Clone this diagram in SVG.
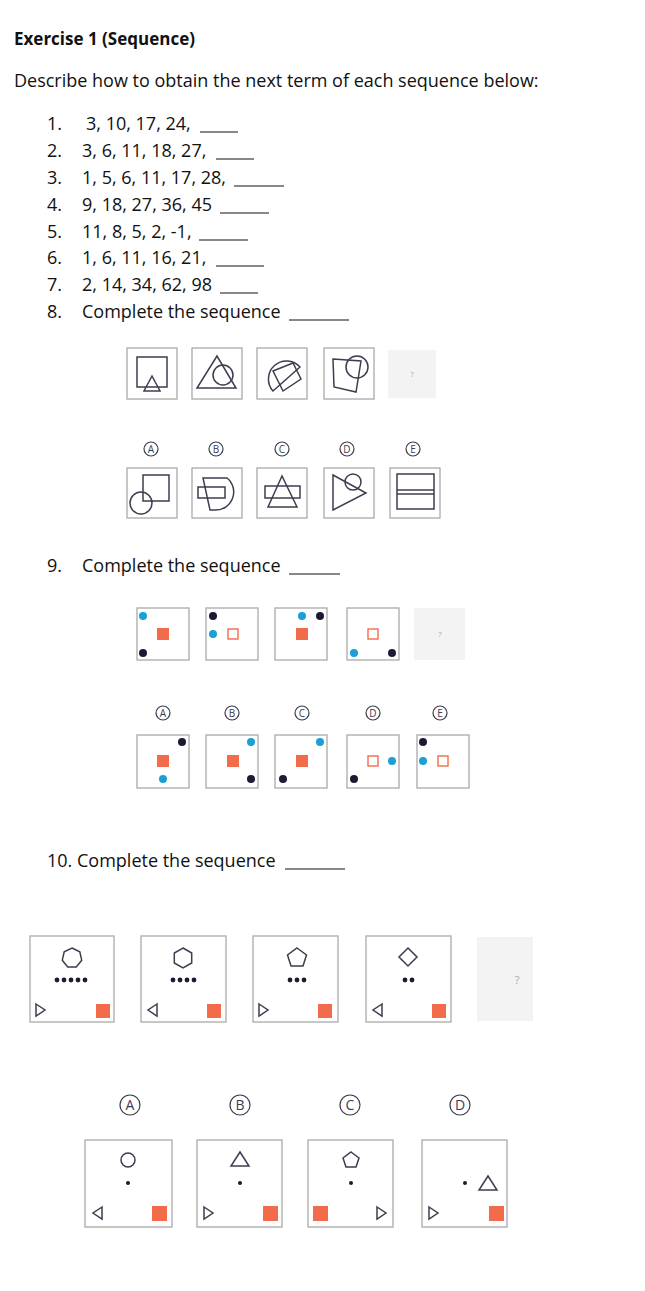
<svg xmlns="http://www.w3.org/2000/svg" width="645" height="1291" viewBox="0 0 645 1291">
<style>
text{font-family:"Open Sans","Liberation Sans",sans-serif;fill:#111;}
.t{font-size:18px;}
.b{font-size:17px;font-weight:bold;}
.box{fill:#fff;stroke:#aaa;stroke-width:1.3;}
.q{fill:#f3f3f3;stroke:none;}
.qm{font-size:8px;fill:#aaa;text-anchor:middle;}
.s{fill:none;stroke:#3d3d50;stroke-width:1.5;}
.lc{fill:#fff;stroke:#3d3d50;stroke-width:1.2;}
.lt{font-size:10px;fill:#3d3d50;text-anchor:middle;}
.lt2{font-size:14px;fill:#3d3d50;text-anchor:middle;}
.bl{fill:#1a9fd6;}.bk{fill:#1b1b33;}.or{fill:#f26b4a;}.oh{fill:#fff;stroke:#f26b4a;stroke-width:1.4;}
.u{stroke:#111;stroke-width:1;}
</style>
<rect width="645" height="1291" fill="#fff"/>
<g id="text">
<text class="b" x="14" y="45">Exercise 1 (Sequence)</text>
<text class="t" x="14" y="87">Describe how to obtain the next term of each sequence below:</text>
<text class="t" x="47" y="130">1.</text><text class="t" x="86" y="130">3, 10, 17, 24,</text><line class="u" x1="200" y1="132" x2="238" y2="132"/>
<text class="t" x="47" y="157">2.</text><text class="t" x="82" y="157">3, 6, 11, 18, 27,</text><line class="u" x1="216" y1="159" x2="254" y2="159"/>
<text class="t" x="47" y="184">3.</text><text class="t" x="82" y="184">1, 5, 6, 11, 17, 28,</text><line class="u" x1="234" y1="186" x2="284" y2="186"/>
<text class="t" x="47" y="211">4.</text><text class="t" x="82" y="211">9, 18, 27, 36, 45</text><line class="u" x1="220" y1="213" x2="269" y2="213"/>
<text class="t" x="47" y="238">5.</text><text class="t" x="82" y="238">11, 8, 5, 2, -1,</text><line class="u" x1="199" y1="240" x2="248" y2="240"/>
<text class="t" x="47" y="264">6.</text><text class="t" x="82" y="264">1, 6, 11, 16, 21,</text><line class="u" x1="216" y1="266" x2="264" y2="266"/>
<text class="t" x="47" y="291">7.</text><text class="t" x="82" y="291">2, 14, 34, 62, 98</text><line class="u" x1="220" y1="293" x2="258" y2="293"/>
<text class="t" x="47" y="318">8.</text><text class="t" x="82" y="318">Complete the sequence</text><line class="u" x1="289" y1="320" x2="349" y2="320"/>
<text class="t" x="47" y="572">9.</text><text class="t" x="82" y="572">Complete the sequence</text><line class="u" x1="289" y1="574" x2="340" y2="574"/>
<text class="t" x="47" y="867">10. Complete the sequence</text><line class="u" x1="285" y1="869" x2="345" y2="869"/>
</g>
<g id="p8-1"><rect class="box" x="127" y="348" width="50" height="51"/><rect class="s" x="137" y="357" width="30" height="30"/><polygon class="s" points="152,376 144,391 160,391" fill="#ddd"/></g>
<g id="p8-2"><rect class="box" x="192" y="348" width="50" height="51"/><polygon class="s" points="217,356 197,388 236,388"/><circle class="s" cx="223" cy="375" r="10"/></g>
<g id="p8-3"><rect class="box" x="257" y="348" width="50" height="51"/><path class="s" d="M273,391 A17,17 0 1 1 300,367 Z"/><polygon class="s" points="273,371 293,363 301,379 283,391"/></g>
<g id="p8-4"><rect class="box" x="324" y="348" width="50" height="51"/><polygon class="s" points="333,359 361,361 356,392 334,387"/><circle class="s" cx="357" cy="367" r="11"/></g>
<g id="p8-q"><rect class="q" x="388" y="350" width="48" height="48"/><text class="qm" x="412" y="377">?</text></g>
<g id="p8-labels">
<circle class="lc" cx="151" cy="449" r="7"/><text class="lt" x="151" y="452.5">A</text>
<circle class="lc" cx="216" cy="449" r="7"/><text class="lt" x="216" y="452.5">B</text>
<circle class="lc" cx="282" cy="449" r="7"/><text class="lt" x="282" y="452.5">C</text>
<circle class="lc" cx="347" cy="449" r="7"/><text class="lt" x="347" y="452.5">D</text>
<circle class="lc" cx="413" cy="449" r="7"/><text class="lt" x="413" y="452.5">E</text>
</g>
<g id="p8-A"><rect class="box" x="127" y="468" width="50" height="50"/><rect class="s" x="143" y="475" width="26" height="26"/><circle class="s" cx="141" cy="503" r="11"/></g>
<g id="p8-B"><rect class="box" x="192" y="468" width="50" height="50"/><path class="s" d="M203,478 L227,478 A18,18 0 0 1 215,510 L210,510 Z"/><rect class="s" x="198" y="487" width="27" height="11"/></g>
<g id="p8-C"><rect class="box" x="257" y="468" width="50" height="50"/><rect class="s" x="265" y="486" width="35" height="12"/><polygon class="s" points="282,476 268,507 297,507"/></g>
<g id="p8-D"><rect class="box" x="324" y="468" width="50" height="50"/><polygon class="s" points="333,475 366,493 333,510"/><circle class="s" cx="353" cy="482" r="8"/></g>
<g id="p8-E"><rect class="box" x="390" y="468" width="50" height="50"/><rect class="s" x="397" y="474" width="37" height="35"/><line class="s" x1="397" y1="490" x2="434" y2="490"/><line class="s" x1="397" y1="494" x2="434" y2="494"/></g>

<g id="p9-1"><rect class="box" x="137" y="608" width="52" height="52"/><circle class="bl" cx="143" cy="616" r="4"/><rect class="or" x="157" y="628" width="12" height="12"/><circle class="bk" cx="143" cy="653" r="4"/></g>
<g id="p9-2"><rect class="box" x="206" y="608" width="52" height="52"/><circle class="bk" cx="213" cy="616" r="4"/><circle class="bl" cx="213" cy="634" r="4"/><rect class="oh" x="228" y="629" width="10" height="10"/></g>
<g id="p9-3"><rect class="box" x="275" y="608" width="52" height="52"/><circle class="bl" cx="302" cy="616" r="4"/><circle class="bk" cx="320" cy="616" r="4"/><rect class="or" x="296" y="628" width="12" height="12"/></g>
<g id="p9-4"><rect class="box" x="347" y="608" width="52" height="52"/><rect class="oh" x="368" y="629" width="10" height="10"/><circle class="bl" cx="354" cy="653" r="4"/><circle class="bk" cx="392" cy="653" r="4"/></g>
<g id="p9-q"><rect class="q" x="414" y="608" width="51" height="52"/><text class="qm" x="440" y="637">?</text></g>
<g id="p9-labels">
<circle class="lc" cx="163" cy="713" r="7"/><text class="lt" x="163" y="716.5">A</text>
<circle class="lc" cx="232" cy="713" r="7"/><text class="lt" x="232" y="716.5">B</text>
<circle class="lc" cx="302" cy="713" r="7"/><text class="lt" x="302" y="716.5">C</text>
<circle class="lc" cx="373" cy="713" r="7"/><text class="lt" x="373" y="716.5">D</text>
<circle class="lc" cx="440" cy="713" r="7"/><text class="lt" x="440" y="716.5">E</text>
</g>
<g id="p9-A"><rect class="box" x="137" y="735" width="52" height="53"/><circle class="bk" cx="182" cy="742" r="4"/><rect class="or" x="157" y="755" width="12" height="12"/><circle class="bl" cx="163" cy="779" r="4"/></g>
<g id="p9-B"><rect class="box" x="206" y="735" width="52" height="53"/><circle class="bl" cx="251" cy="742" r="4"/><rect class="or" x="227" y="755" width="12" height="12"/><circle class="bk" cx="251" cy="779" r="4"/></g>
<g id="p9-C"><rect class="box" x="275" y="735" width="52" height="53"/><circle class="bl" cx="320" cy="742" r="4"/><rect class="or" x="296" y="755" width="12" height="12"/><circle class="bk" cx="283" cy="779" r="4"/></g>
<g id="p9-D"><rect class="box" x="347" y="735" width="52" height="53"/><rect class="oh" x="368" y="756" width="10" height="10"/><circle class="bl" cx="392" cy="761" r="4"/><circle class="bk" cx="354" cy="779" r="4"/></g>
<g id="p9-E"><rect class="box" x="417" y="735" width="52" height="53"/><circle class="bk" cx="423" cy="742" r="4"/><circle class="bl" cx="423" cy="761" r="4"/><rect class="oh" x="438" y="756" width="10" height="10"/></g>

<g id="p10-1"><rect class="box" x="30" y="936" width="84" height="86"/>
<polygon class="s" points="72,948 79.8,951.8 81.7,960.2 76.3,967 67.7,967 62.3,960.2 64.2,951.8"/>
<g class="bk"><circle cx="57" cy="980" r="2.4"/><circle cx="64" cy="980" r="2.4"/><circle cx="71" cy="980" r="2.4"/><circle cx="78" cy="980" r="2.4"/><circle cx="85" cy="980" r="2.4"/></g>
<polygon class="s" points="36,1004 45,1010 36,1016"/><rect class="or" x="96" y="1004" width="14" height="14"/></g>
<g id="p10-2"><rect class="box" x="141" y="936" width="85" height="86"/>
<polygon class="s" points="183,948 191.7,953 191.7,963 183,968 174.3,963 174.3,953"/>
<g class="bk"><circle cx="173" cy="980" r="2.4"/><circle cx="180" cy="980" r="2.4"/><circle cx="187" cy="980" r="2.4"/><circle cx="194" cy="980" r="2.4"/></g>
<polygon class="s" points="157,1004 148,1010 157,1016"/><rect class="or" x="207" y="1004" width="14" height="14"/></g>
<g id="p10-3"><rect class="box" x="253" y="936" width="85" height="86"/>
<polygon class="s" points="297,948 306.5,955 303,966 291,966 287.5,955"/>
<g class="bk"><circle cx="290" cy="980" r="2.4"/><circle cx="297" cy="980" r="2.4"/><circle cx="304" cy="980" r="2.4"/></g>
<polygon class="s" points="259,1004 268,1010 259,1016"/><rect class="or" x="318" y="1004" width="14" height="14"/></g>
<g id="p10-4"><rect class="box" x="366" y="936" width="85" height="86"/>
<polygon class="s" points="408,948 417,957 408,966 399,957"/>
<g class="bk"><circle cx="405" cy="980" r="2.4"/><circle cx="412" cy="980" r="2.4"/></g>
<polygon class="s" points="382,1004 373,1010 382,1016"/><rect class="or" x="432" y="1004" width="14" height="14"/></g>
<g id="p10-q"><rect class="q" x="477" y="937" width="56" height="84"/><text class="qm" x="517" y="984" style="font-size:11px">?</text></g>
<g id="p10-labels">
<circle class="lc" cx="130" cy="1105" r="10"/><text class="lt2" x="130" y="1110">A</text>
<circle class="lc" cx="240" cy="1105" r="10"/><text class="lt2" x="240" y="1110">B</text>
<circle class="lc" cx="350" cy="1105" r="10"/><text class="lt2" x="350" y="1110">C</text>
<circle class="lc" cx="460" cy="1105" r="10"/><text class="lt2" x="460" y="1110">D</text>
</g>
<g id="p10-A"><rect class="box" x="85" y="1140" width="87" height="87"/><circle class="s" cx="128" cy="1160" r="7"/><circle class="bk" cx="128" cy="1183" r="2"/><polygon class="s" points="102,1207 93,1213 102,1219"/><rect class="or" x="152" y="1206" width="15" height="15"/></g>
<g id="p10-B"><rect class="box" x="197" y="1140" width="85" height="87"/><polygon class="s" points="240,1152 231,1166 249,1166"/><circle class="bk" cx="240" cy="1183" r="2"/><polygon class="s" points="204,1207 213,1213 204,1219"/><rect class="or" x="263" y="1206" width="15" height="15"/></g>
<g id="p10-C"><rect class="box" x="308" y="1140" width="85" height="87"/><polygon class="s" points="351,1152 359,1158 356,1167 346,1167 343,1158"/><circle class="bk" cx="351" cy="1183" r="2"/><rect class="or" x="313" y="1206" width="15" height="15"/><polygon class="s" points="377,1207 386,1213 377,1219"/></g>
<g id="p10-D"><rect class="box" x="422" y="1140" width="85" height="87"/><circle class="bk" cx="465" cy="1183" r="2"/><polygon class="s" points="488,1176 479,1190 497,1190"/><polygon class="s" points="429,1207 438,1213 429,1219"/><rect class="or" x="489" y="1206" width="15" height="15"/></g>
<g id="connectors"></g>
</svg>
